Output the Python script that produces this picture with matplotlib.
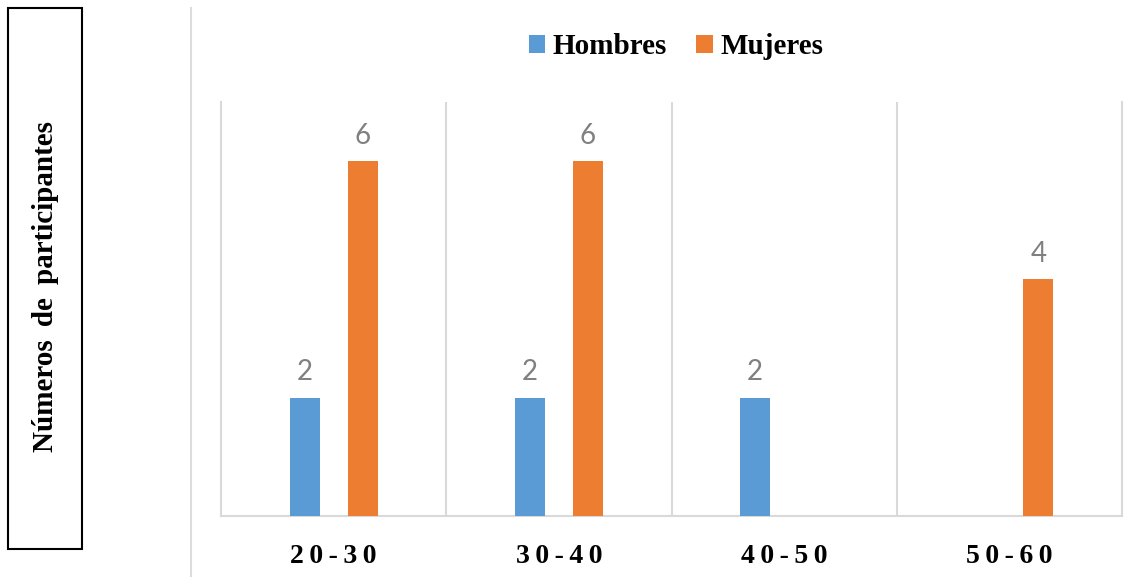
import matplotlib
matplotlib.use("Agg")
import matplotlib.pyplot as plt
import numpy as np
from matplotlib.patches import Patch, Rectangle
from matplotlib.lines import Line2D

# Datos
categorias = ["20-30", "30-40", "40-50", "50-60"]
hombres = [2, 2, 2, 0]
mujeres = [6, 6, 0, 4]
series = ["Hombres", "Mujeres"]
titulo_y = "Números de participantes"

AZUL = "#5B9BD5"
NARANJA = "#ED7D31"
GRIS = "#D9D9D9"
SERIF = "Liberation Serif"

fig = plt.figure(figsize=(11.43, 5.77), dpi=100)
ax = fig.add_axes([221 / 1143, 1 - 516 / 577, 901 / 1143, 414 / 577])

x = np.arange(len(categorias))
ancho = 0.133
desp = 0.129

barras_h = ax.bar(x - desp, hombres, ancho, color=AZUL, zorder=3)
barras_m = ax.bar(x + desp, mujeres, ancho, color=NARANJA, zorder=3)

# Etiquetas de datos (sin mostrar ceros)
for barras, valores in [(barras_h, hombres), (barras_m, mujeres)]:
    for b, v in zip(barras, valores):
        if v == 0:
            continue
        ax.annotate(
            str(v),
            (b.get_x() + b.get_width() / 2, v),
            xytext=(0, 9),
            textcoords="offset points",
            ha="center",
            va="bottom",
            fontsize=20,
            color="#808080",
            family="Lato",
        )

ax.set_xlim(-0.5, len(categorias) - 0.5)
ax.set_ylim(0, 7)
ax.set_yticks([])

ax.set_xticks(x)
ax.set_xticklabels(
    ["\u2009".join(c) for c in categorias],
    fontsize=20,
    fontweight="bold",
    family=SERIF,
)
ax.tick_params(axis="x", length=0, pad=20)

# Lineas verticales entre categorias
ax.set_xticks(x[:-1] + 0.5, minor=True)
ax.tick_params(axis="x", which="minor", length=0)
ax.grid(True, which="minor", axis="x", color=GRIS, linewidth=1.5, zorder=0)

for lado in ["left", "right", "bottom"]:
    ax.spines[lado].set_color(GRIS)
    ax.spines[lado].set_linewidth(1.5)
ax.spines["top"].set_visible(False)

# Leyenda
handles = [
    Patch(facecolor=AZUL, edgecolor="none"),
    Patch(facecolor=NARANJA, edgecolor="none"),
]
fig.legend(
    handles,
    series,
    loc="center",
    bbox_to_anchor=(676 / 1143, 1 - 47 / 577),
    ncol=2,
    frameon=False,
    prop={"family": SERIF, "weight": "bold", "size": 21},
    handlelength=0.58,
    handleheight=0.58,
    handletextpad=0.25,
    columnspacing=1.0,
)

# Caja del titulo del eje Y
fig.patches.append(
    Rectangle(
        (8 / 1143, 1 - 549 / 577),
        74 / 1143,
        541 / 577,
        transform=fig.transFigure,
        facecolor="white",
        edgecolor="black",
        linewidth=1.5,
    )
)
fig.text(
    46 / 1143,
    1 - 287 / 577,
    titulo_y.replace(" ", " \u2009"),
    rotation=90,
    ha="center",
    va="center",
    fontsize=21,
    fontweight="bold",
    family=SERIF,
)

# Linea vertical separadora
fig.lines.append(
    Line2D(
        [191 / 1143, 191 / 1143],
        [0, 1 - 8 / 577],
        transform=fig.transFigure,
        color="#DDDDDD",
        linewidth=1.5,
    )
)

fig.savefig("out.png", dpi=100)
plt.close(fig)
